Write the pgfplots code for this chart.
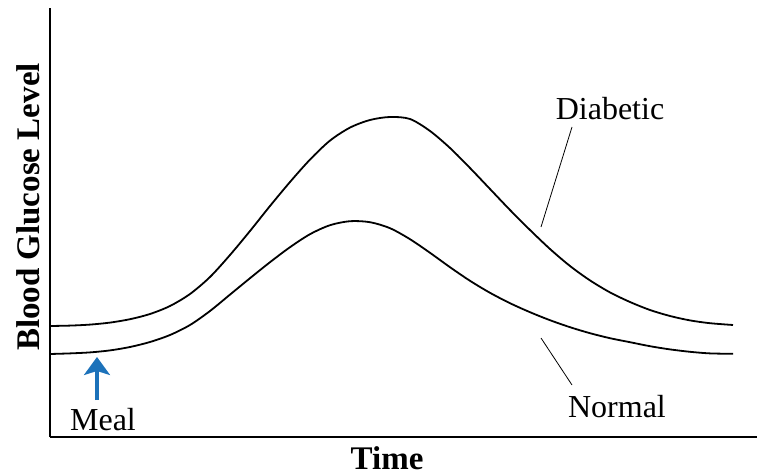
\documentclass[border=0pt]{standalone}
\usepackage{fontspec}
\setmainfont{Liberation Serif}
\usepackage{pgfplots}
\pgfplotsset{compat=1.18}
\usetikzlibrary{arrows.meta}
\definecolor{mealblue}{RGB}{28,114,186}
\begin{document}
\begin{tikzpicture}
\begin{axis}[
  scale only axis,
  width=707bp, height=429bp,
  xmin=50, xmax=757, ymin=39, ymax=468,
  axis lines=left,
  axis line style={-, line width=1.8bp, black},
  xtick=\empty, ytick=\empty,
  clip=false,
  xlabel={Time},
  ylabel={Blood Glucose Level},
  xlabel style={font=\fontsize{33bp}{38bp}\selectfont\bfseries, at={(axis description cs:0.4767,-0.049)}, anchor=center},
  ylabel style={font=\fontsize{33bp}{38bp}\selectfont\bfseries, at={(axis description cs:-0.031,0.536)}, anchor=center},
]
\coordinate (O) at (rel axis cs:0,0);
% Diabetic
\addplot[smooth, line width=1.8bp, black] coordinates {
(50,150) (70,150.4) (90,151.4) (110,153.4) (130,156.8) (150,162) (170,170) (190,182)
(210,199) (230,221) (250,245) (270,270) (290,294) (310,316.4) (330,335.4) (350,348.4)
(370,356) (390,359) (410,357) (430,345) (450,328) (470,308) (490,287) (510,266)
(530,246) (550,227) (570,210) (590,195.6) (610,183.6) (630,174) (650,166) (670,160)
(690,155.6) (710,152.8) (733,151)
};
% Normal
\addplot[smooth, line width=1.8bp, black] coordinates {
(50,122) (70,122.6) (90,123.6) (110,125.6) (130,129) (150,134) (170,141) (190,151)
(210,165) (230,181.4) (250,197.8) (270,213.8) (290,228.8) (310,241.8) (330,250.8) (350,254.8)
(370,253.8) (390,247.8) (410,236.8) (430,223.2) (450,208.8) (470,195.2) (490,183.2) (510,172.8)
(530,163.8) (550,155.8) (570,148.8) (590,142.8) (610,137.8) (630,133.8) (650,129.8) (670,126.6)
(690,124.2) (710,122.6) (733,122.2)
};
\draw[line width=0.8bp] (axis cs:541,249) -- (axis cs:572,349);
\draw[line width=0.8bp] (axis cs:541,138) -- (axis cs:572,91);
\node[anchor=base, font=\fontsize{32bp}{38bp}\selectfont] at (axis cs:610,356) {Diabetic};
\node[anchor=base, font=\fontsize{32bp}{38bp}\selectfont] at (axis cs:617,59) {Normal};
\node[anchor=base, font=\fontsize{32bp}{38bp}\selectfont] at (axis cs:103,46) {Meal};
\draw[mealblue, line width=3.2bp, -{Stealth[width=26bp,length=18bp,inset=4bp]}] (axis cs:97,76) -- (axis cs:97,119);
\end{axis}
\pgfresetboundingbox
\path (O) ++(-50bp,-39bp) rectangle ++(757bp,476bp);
\end{tikzpicture}
\end{document}
